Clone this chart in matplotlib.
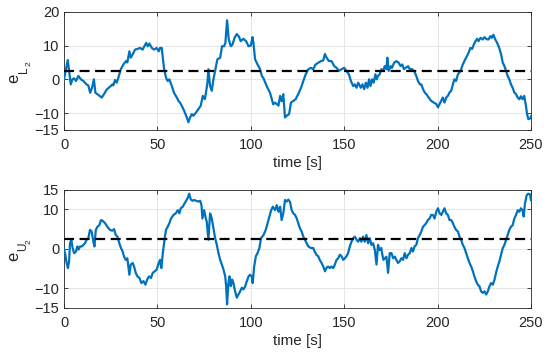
import matplotlib
matplotlib.use('Agg')
import matplotlib.pyplot as plt
import numpy as np

# error signal e_L2 (top panel)
t_L = [0, 0.9, 2, 2.7, 3.6, 4.5, 5.4, 6.4, 7.7, 9, 10.4, 12, 13, 14, 15, 16, 16.8,
       17.9, 19.3, 20.2, 21.4, 22.9, 24.6, 25.9, 26.4, 27.3, 28.2, 29.1, 30.4, 31.8,
       33.2, 33.9, 35, 35.7, 36.8, 38, 39.3, 40.7, 42.1, 43, 44, 44.8, 45.7, 47, 48.2,
       49.6, 50.7, 51.4, 52.3, 52.9, 53.6, 54.6, 55.5, 56.4, 57.7, 58.9, 60.4, 61.3,
       62.1, 63, 64.3, 65.4, 66.6, 67.5, 68.4, 69.3, 70.7, 72, 73.2, 74.3, 75.4, 76,
       76.8, 77.3, 78.2, 79.1, 80, 80.9, 82.1, 83.6, 84.6, 85.7, 86.4, 87.3, 88.2,
       89.3, 90.2, 91.3, 92.5, 93.6, 94.6, 96, 97.5, 98.8, 100, 100.9, 101.4, 102.3,
       103.6, 105, 105.9, 106.8, 108.5, 110.3, 112, 113, 114.8, 115.7, 116.5, 117.4,
       118.3, 119.2, 120.5, 121.5, 122.8, 124, 125.4, 126.9, 128.1, 129.4, 130.8,
       132.2, 133.4, 134.7, 136.1, 137.5, 138.8, 139.7, 140.6, 141.8, 143.2, 144.7,
       145.9, 147.2, 148.6, 150, 151.2, 152.5, 153.6, 154.8, 155.7, 156.6, 157.5,
       158.9, 159.8, 160.7, 161.6, 162.5, 163.3, 164.1, 164.9, 165.8, 166.7, 167.4,
       168.1, 169, 169.9, 170.8, 171.7, 172.6, 173.1, 173.8, 174.9, 175.6, 176.7,
       177.9, 179.2, 180.2, 181.1, 182, 182.9, 184.2, 185.1, 186.3, 187.4, 188.6,
       189.5, 190.6, 191.3, 192.2, 193.1, 194, 195.2, 196.6, 198, 199.3, 200.2, 201.1,
       201.9, 202.8, 203.7, 204.6, 205.5, 206.4, 207.3, 208.2, 209, 209.9, 210.9,
       212.3, 213.5, 214.8, 216.2, 217.6, 218.5, 219.4, 220.3, 221.2, 221.9, 223,
       224.2, 225.1, 226.2, 227.2, 228.3, 229, 229.9, 230.8, 231.9, 233, 234, 234.9,
       235.8, 236.7, 237.5, 238.4, 239.3, 240.2, 241.1, 242, 242.9, 243.8, 244.6,
       245.5, 246.4, 247.3, 247.9, 248.6, 249.6, 250]
e_L = [0, 2.5, 5.7, 2.5, -1.5, 0, 0.3, -0.5, 1, 0, -0.5, -1.5, -1.8, -4, -2.5, 0, -4,
       -4.4, -5, -5.4, -4.4, -3, -2.2, -1.5, -1.8, -0.2, -1, 0.5, 3, 4.4,
       5.4, 5, 8.3, 6.4, 7.4, 8.8, 9, 9.3, 8.8, 9.8, 10.8, 9.8, 10.6, 9.3, 8.8,
       9.3, 8.3, 9.3, 9.3, 6.4, 3, 0.5, -0.5, 0, -2, -4, -5.4, -6.4,
       -6.9, -7.8, -9.3, -10.8, -12.7, -11.3, -10.3, -10.8, -9.8, -8.8, -7.8, -4.9, -5.9, -3.9,
       -1, 3, -2, -3.4, 0, 2.5, 5.9, 6.4, 9.8, 9.8, 10.8, 17.5, 11.8,
       9.8, 10.3, 12.3, 13.4, 12.7, 11.3, 12, 11.3, 9.8, 10, 12.5, 10.8, 5.9,
       4.4, 3, 1, 0.3, -2, -4, -7.4, -6.9, -7.8, -4.9, -6.5, -4.4,
       -11.3, -10.8, -10.3, -6.9, -6.4, -5.9, -4.4, -2.5, -0.5, 1.5, 3,
       3.4, 3, 4.4, 4.9, 5.4, 5.6, 7.5, 6.4, 5.4, 5.4, 3.9,
       3.4, 2.5, 3, 3.4, 2.5, 1.5, -0.5, -2, -1.5, -2.5, -1,
       -2.5, -1.5, -2.9, -1, -2.5, 0, -2, 0, -1, 1.5, 0,
       1, 1.5, 3, 2.5, 3.9, 3, 6.4, 2.5, 3.9, 3.4, 4.9,
       5.4, 4.9, 3.9, 4.4, 3, 3.4, 3.9, 3, 3, 2.5, 1,
       -0.5, -1.5, -1.5, -2.9, -3.9, -4.4, -5.4, -6.4, -6.9, -7.3, -8.3, -7.3,
       -6.4, -5.4, -6.9, -5.4, -4.9, -3.9, -3.4, -1.5, 0, -0.5, 1.5,
       2.5, 4.4, 5.9, 7.4, 9.3, 9, 10.3, 11.3, 12, 11.3, 12.3,
       11.8, 12.5, 11.9, 11.8, 12.8, 12.3, 13.2, 11.9, 10.8, 9.3, 7.4, 4.9,
       3.9, 2.5, 1, 0, -1.5, -2.5, -3.9, -4.4, -5.4, -5.9, -5,
       -5.9, -4.9, -7.8, -10.3, -11.8, -11.6, -11]

# error signal e_U2 (bottom panel)
t_U = [0, 0.7, 1.4, 2.1, 2.7, 3.2, 3.9, 4.6, 5.4, 6.4, 7.1, 7.8, 8.6, 9.5, 10.4,
       11.2, 12.1, 13, 13.9, 14.8, 15.7, 16.3, 17, 17.9, 18.9, 19.8, 20.7, 22, 23.2,
       24.6, 25.8, 26.8, 27.7, 28.6, 29.6, 30.5, 31.4, 32.1, 33, 33.9, 35, 35.7,
       36.8, 37.5, 38.4, 39.3, 40.4, 41.4, 42.5, 43.6, 44.5, 45.5, 46.6, 47.5, 48.6,
       49.6, 50.7, 51.4, 52.1, 52.9, 53.8, 54.6, 55.5, 56.4, 57.3, 58.6, 59.8, 60.9,
       61.8, 62.5, 63.6, 64.5, 65.4, 66.3, 67, 67.9, 68.8, 69.6, 70.7, 71.9, 72.9,
       73.6, 74.1, 75, 75.7, 76.4, 77.3, 78.2, 79.1, 80, 80.9, 81.8, 82.7, 83.6,
       84.5, 85.4, 86.3, 86.8, 87.3, 88, 88.6, 89.3, 90, 90.7, 91.6, 92.5, 93.4,
       94.3, 95.2, 96.1, 97, 97.9, 98.8, 99.6, 100.5, 101, 101.8, 102.7, 103.6,
       104.6, 105.5, 106.8, 108, 109, 110, 110.9, 111.8, 113, 113.9, 114.8, 115.7,
       116.5, 117.4, 118.3, 119.2, 120.1, 121, 121.9, 122.8, 123.7, 124.6, 125.4,
       126.3, 127.2, 128.1, 129, 129.9, 130.8, 132.2, 133.4, 134.2, 135.1, 136.1,
       136.9, 137.9, 138.8, 139.7, 140.6, 141.4, 142.3, 143.2, 144.1, 145, 145.9,
       146.8, 147.7, 148.6, 149.5, 150.4, 151.2, 152.1, 153, 153.9, 154.8, 155.7,
       156.6, 157.5, 158.4, 159.2, 160.1, 161, 161.9, 162.8, 163.7, 164.6, 165.5,
       166.4, 167.3, 168.1, 169, 169.9, 170.1, 171, 172.6, 173.5, 174.4, 175.3,
       176.2, 177.1, 177.9, 178.8, 179.7, 180.6, 181.5, 182.4, 183.3, 184.2, 185.1,
       186, 186.8, 187.7, 188.6, 189.5, 190.4, 191.3, 192.2, 193, 193.9, 194.8,
       195.7, 196.6, 197.5, 198.4, 199.3, 200.2, 201.1, 202, 202.8, 203.7, 204.6,
       205.5, 206.4, 207.3, 208.2, 209, 209.9, 210.9, 211.7, 212.6, 213.5, 214.4,
       215.3, 216.2, 217.1, 218, 218.9, 219.7, 220.6, 221.5, 222.4, 223.3, 224.2,
       225.1, 226, 226.9, 227.8, 228.7, 229.6, 230.5, 231.3, 232.2, 233.1, 234,
       234.9, 235.8, 236.7, 237.5, 238.4, 239.3, 240.2, 241.1, 242, 242.9, 243.8,
       244.6, 245.5, 246.1, 246.8, 247.7, 248.6, 249.5, 250]
e_U = [0, -1.5, -3.6, -4.9, -3.2, 1.4, 2.3, 0.2, -1.1, -0.7, 0.6, -0.2, 0.6, 0.6, 1,
       1.4, 2.3, 2.7, 4.8, 4.4, 1.8, 0.6, 4.8, 5.6, 6, 7.3, 7.1, 6.5, 5.6,
       4.8, 4.6, 5, 3.5, 3.1, 1.4, 0.2, -0.7, -1.9, -2.8, -2.4, -6.6, -4,
       -3.6, -4.5, -6.1, -7, -7.4, -8.7, -8.2, -9.1, -7.8, -7, -7.4, -6.1, -5.7,
       -5.3, -3.6, -2.8, -4.9, -1.1, 2.3, 4.8, 5.6, 6.5, 7.7, 8.6, 9, 9.8,
       9, 10.3, 10.7, 11.5, 12.2, 13, 14, 12.5, 12.2, 12.4, 12.2, 12, 12.2,
       11.1, 7.7, 9.8, 8.2, 6.9, 2.3, 9, 7.7, 5.2, 2.7, 1, -1.1, -2.8,
       -4, -5.3, -7, -9.5, -14.1, -8.7, -7, -9.5, -7.8, -8.7, -10.8, -12.4, -11.6,
       -10.8, -9.9, -10.3, -9.5, -8.2, -7, -6.6, -7, -8.7, -4.5, -1.9, -1.1,
       0.2, 2.7, 3.5, 4.8, 6.5, 8.2, 9.8, 10.7, 9.8, 11.1, 9.4, 10.7,
       7.3, 9, 12.4, 12, 12.5, 11.9, 9.8, 9, 8.6, 7.7, 6.5,
       5.2, 4.4, 3.1, 2.3, 1.4, 0.6, 0.2, 0.2, -0.7, -1.5, -1.9,
       -2.8, -3.6, -4.5, -5.7, -4.8, -4.5, -4.9, -4.5, -4.9, -4, -2.8,
       -2.4, -1.5, -1.9, -2.8, -2.4, -1.9, -1.1, 0.6, 1.8, 2.7, 3.1,
       2.3, 1.8, 2.7, 1.8, 3.1, 1.8, 3.5, 1.4, 2.7, 1, 1.4,
       -0.3, -4, 1, -0.3, 0.2, -0.7, -2.8, -2, -6.1, -1.1, -1.1,
       -2.4, -2, -2.8, -3.6, -3.2, -2.4, -2.8, -1.1, -2.4, -1.5, -1.1,
       0.2, -0.7, 0.6, 1, 2.7, 3.5, 4.4, 5.6, 6, 6.5, 7.3,
       7.7, 8.6, 8.6, 7.7, 9.4, 10.3, 9, 8.6, 9.4, 10.3, 9,
       8.6, 7.3, 7.3, 6.5, 5.6, 4.8, 4.4, 3.1, 2.3, 1, 0.2,
       -1.1, -2.4, -3.6, -4.5, -5.7, -7, -8.2, -9.1, -9.5, -10.8, -11.2,
       -10.8, -11.6, -10.8, -9.5, -8.7, -9.1, -7.8, -6.1, -4.5, -3.2, -1.5,
       0.2, 1, 2.3, 3.5, 4.8, 5.6, 6, 7.7, 8.6, 9.8, 9.4,
       10.3, 9.8, 8.2, 11.5, 13.6, 14, 13.8, 12.4]

ref_level = 2.6
# label parts: base, subscript, sub-subscript
panels = [(t_L, e_L, ('e', 'L', '2'), [-15, -10, 0, 10, 20], (-15, 20)),
          (t_U, e_U, ('e', 'U', '2'), [-15, -10, 0, 10, 15], (-15, 15))]

plt.rcParams['font.family'] = ['Liberation Sans', 'DejaVu Sans']

W, H = 550, 358
fig = plt.figure(figsize=(5.5, 3.58), dpi=100)
boxes = [[0.1164, 0.637, 0.849, 0.33], [0.1164, 0.14, 0.849, 0.33]]
txt = '#262626'

def px(x, y):
    return x / W, 1 - y / H

for box, (t, e, lab, yt, yl) in zip(boxes, panels):
    ax = fig.add_axes(box)
    ax.plot(t, e, color='#0072BD', lw=1.6, zorder=3)
    ax.axhline(ref_level, color='k', lw=1.6, ls=(0, (4.5, 2.5)), zorder=4)
    ax.set_xlim(0, 250)
    ax.set_ylim(*yl)
    ax.set_xticks([0, 50, 100, 150, 200, 250])
    ax.set_yticks(yt)
    ax.grid(True, color='#e0e0e0', lw=0.6)
    ax.tick_params(direction='in', length=3, width=0.6, colors=txt, labelsize=10.5,
                   top=True, right=True)
    ax.tick_params(axis='x', pad=5.5)
    for s in ax.spines.values():
        s.set_color(txt)
        s.set_linewidth(0.6)
    ax.set_xlabel('time [s]', fontsize=11, color=txt, labelpad=3)

    # rotated y label with nested subscripts, built piece by piece
    ymid = (1 - box[1] - box[3] / 2) * H  # axes centre in pixels from top
    kw = dict(rotation=90, rotation_mode='anchor', ha='left', va='baseline', color=txt)
    fig.text(*px(18, ymid + 12.5), lab[0], fontsize=12, **kw)
    fig.text(*px(26.5, ymid + 2), lab[1], fontsize=8.5, **kw)
    fig.text(*px(30.5, ymid - 5), lab[2], fontsize=6, **kw)

fig.savefig('out.png', dpi=100)
